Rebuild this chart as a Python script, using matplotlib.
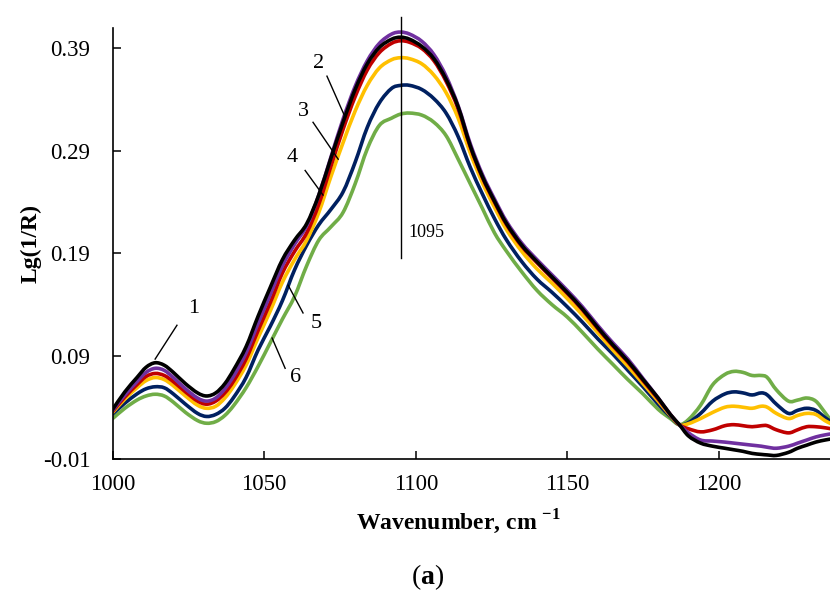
import matplotlib
matplotlib.use("Agg")
import matplotlib.pyplot as plt
from matplotlib.path import Path
from matplotlib.patches import PathPatch
import numpy as np

plt.rcParams['font.family'] = ['Liberation Serif', 'DejaVu Serif']
plt.rcParams['mathtext.fontset'] = 'custom'
plt.rcParams['mathtext.rm'] = 'Liberation Serif'
plt.rcParams['mathtext.bf'] = 'Liberation Serif:bold'

wavenumber = [1000, 1004, 1008, 1011, 1014, 1017, 1020, 1024, 1028, 1031,
              1034, 1037, 1040, 1044, 1048, 1052, 1056, 1060, 1064, 1068,
              1072, 1076, 1080, 1084, 1088, 1092, 1095, 1098, 1102, 1106,
              1110, 1114, 1118, 1122, 1126, 1130, 1135, 1140, 1145, 1150,
              1155, 1160, 1165, 1170, 1175, 1180, 1184, 1187, 1190, 1194,
              1198, 1202, 1205, 1208, 1211, 1214, 1216, 1219, 1223, 1226,
              1229, 1232, 1235, 1237]

s1_black = [0.038, 0.055, 0.069, 0.079, 0.0834, 0.081, 0.074, 0.063, 0.054, 0.051,
            0.054, 0.063, 0.077, 0.099, 0.129, 0.157, 0.184, 0.203, 0.219, 0.247,
            0.283, 0.318, 0.350, 0.375, 0.391, 0.399, 0.401, 0.399, 0.392, 0.380,
            0.360, 0.333, 0.295, 0.265, 0.241, 0.219, 0.198, 0.182, 0.167, 0.152,
            0.136, 0.118, 0.101, 0.085, 0.067, 0.049, 0.033, 0.023, 0.012, 0.005,
            0.002, 0.000, -0.0015, -0.003, -0.005, -0.006, -0.0065, -0.007, -0.004, 0.000,
            0.003, 0.006, 0.008, 0.009]

s2_purple = [0.037, 0.052, 0.065, 0.074, 0.078, 0.076, 0.069, 0.058, 0.049, 0.046,
             0.049, 0.058, 0.071, 0.093, 0.122, 0.150, 0.178, 0.199, 0.217, 0.247,
             0.284, 0.321, 0.353, 0.378, 0.395, 0.404, 0.406, 0.404, 0.397, 0.384,
             0.363, 0.334, 0.297, 0.267, 0.243, 0.221, 0.200, 0.184, 0.169, 0.154,
             0.138, 0.120, 0.103, 0.087, 0.068, 0.049, 0.033, 0.023, 0.015, 0.008,
             0.007, 0.006, 0.005, 0.004, 0.003, 0.002, 0.001, 0.000, 0.002, 0.005,
             0.008, 0.011, 0.013, 0.014]

s3_red = [0.036, 0.050, 0.062, 0.070, 0.073, 0.071, 0.065, 0.055, 0.046, 0.043,
          0.046, 0.054, 0.066, 0.087, 0.115, 0.142, 0.171, 0.192, 0.210, 0.238,
          0.275, 0.311, 0.343, 0.369, 0.386, 0.395, 0.3975, 0.396, 0.390, 0.378,
          0.358, 0.331, 0.294, 0.264, 0.240, 0.218, 0.197, 0.181, 0.166, 0.151,
          0.135, 0.117, 0.100, 0.084, 0.066, 0.048, 0.033, 0.023, 0.019, 0.016,
          0.018, 0.022, 0.023, 0.022, 0.021, 0.022, 0.022, 0.018, 0.015, 0.018,
          0.021, 0.021, 0.020, 0.019]

s4_yellow = [0.035, 0.048, 0.059, 0.066, 0.069, 0.067, 0.061, 0.051, 0.042, 0.039,
             0.041, 0.049, 0.061, 0.081, 0.108, 0.134, 0.162, 0.184, 0.203, 0.230,
             0.265, 0.298, 0.329, 0.354, 0.371, 0.379, 0.381, 0.380, 0.375, 0.364,
             0.347, 0.322, 0.288, 0.259, 0.235, 0.213, 0.192, 0.175, 0.161, 0.146,
             0.130, 0.113, 0.096, 0.080, 0.063, 0.046, 0.032, 0.023, 0.024, 0.029,
             0.035, 0.040, 0.041, 0.040, 0.039, 0.041, 0.040, 0.034, 0.029, 0.032,
             0.034, 0.033, 0.027, 0.024]

s5_navy = [0.0335, 0.044, 0.053, 0.058, 0.060, 0.059, 0.053, 0.043, 0.034, 0.031,
           0.033, 0.039, 0.050, 0.069, 0.096, 0.119, 0.144, 0.174, 0.198, 0.218,
           0.233, 0.250, 0.279, 0.313, 0.337, 0.351, 0.354, 0.354, 0.350, 0.341,
           0.327, 0.304, 0.274, 0.248, 0.224, 0.203, 0.182, 0.165, 0.152, 0.138,
           0.123, 0.107, 0.092, 0.076, 0.060, 0.043, 0.031, 0.023, 0.025, 0.034,
           0.046, 0.053, 0.055, 0.054, 0.052, 0.054, 0.052, 0.043, 0.034, 0.037,
           0.039, 0.037, 0.030, 0.026]

s6_green = [0.029, 0.039, 0.047, 0.051, 0.0527, 0.051, 0.045, 0.035, 0.027, 0.0244,
            0.026, 0.032, 0.042, 0.059, 0.080, 0.103, 0.126, 0.148, 0.178, 0.203,
            0.216, 0.230, 0.258, 0.292, 0.315, 0.322, 0.326, 0.327, 0.325, 0.318,
            0.305, 0.282, 0.258, 0.234, 0.210, 0.192, 0.172, 0.154, 0.140, 0.128,
            0.113, 0.097, 0.082, 0.067, 0.053, 0.038, 0.029, 0.023, 0.028, 0.042,
            0.062, 0.072, 0.075, 0.074, 0.071, 0.071, 0.069, 0.057, 0.046, 0.047,
            0.049, 0.046, 0.035, 0.027]

series = [s1_black, s2_purple, s3_red, s4_yellow, s5_navy, s6_green]
colors = ['#000000', '#7030A0', '#C00000', '#FFC000', '#002060', '#70AD47']

x_ticks = [1000, 1050, 1100, 1150, 1200]
y_ticks = [-0.01, 0.09, 0.19, 0.29, 0.39]
y_tick_labels = ['-0.01', '0.09', '0.19', '0.29', '0.39']

peak_position = 1095

# curve labels: (text, text_xy, line_start, line_end)
curve_labels = [
    ('1', (1026.8, 0.136), (1021.2, 0.120), (1014.0, 0.087)),
    ('2', (1067.8, 0.375), (1070.7, 0.363), (1076.7, 0.323)),
    ('3', (1063.1, 0.329), (1066.1, 0.318), (1074.4, 0.282)),
    ('4', (1059.2, 0.284), (1063.5, 0.271), (1069.4, 0.247)),
    ('5', (1067.1, 0.122), (1057.9, 0.159), (1062.8, 0.132)),
    ('6', (1060.2, 0.069), (1052.6, 0.1075), (1056.9, 0.078)),
]


def smooth_path(xs, ys):
    """Excel-like smoothed line: cubic Bezier segments through the data points."""
    p = np.column_stack([xs, ys]).astype(float)
    n = len(p)
    verts = [p[0]]
    codes = [Path.MOVETO]
    for i in range(n - 1):
        p0 = p[i - 1] if i > 0 else p[i]
        p1 = p[i]
        p2 = p[i + 1]
        p3 = p[i + 2] if i + 2 < n else p[i + 1]
        c1 = p1 + (p2 - p0) / 6.0
        c2 = p2 - (p3 - p1) / 6.0
        verts += [c1, c2, p2]
        codes += [Path.CURVE4] * 3
    return Path(verts, codes)


fig = plt.figure(figsize=(8.3, 5.93), dpi=100)
ax = fig.add_axes([0.1358, 0.2268, 0.8642, 0.726])

for ys, c in zip(series[::-1], colors[::-1]):
    patch = PathPatch(smooth_path(wavenumber, ys), facecolor='none',
                      edgecolor=c, lw=2.6, joinstyle='round', capstyle='round')
    ax.add_patch(patch)

ax.plot([peak_position, peak_position], [0.186, 0.421], color='black',
        lw=1.0, clip_on=False)
ax.text(peak_position + 2.5, 0.21, str(peak_position), fontsize=13,
        ha='left', va='center')

for txt, txy, p0, p1 in curve_labels:
    ax.plot([p0[0], p1[0]], [p0[1], p1[1]], color='black', lw=1.0)
    ax.text(txy[0], txy[1], txt, fontsize=16, ha='center', va='center')

ax.set_xlim(1000, 1236.7)
ax.set_ylim(-0.01, 0.41)
ax.set_xticks(x_ticks)
ax.set_xticklabels([str(v) for v in x_ticks])
ax.set_yticks(y_ticks)
ax.set_yticklabels(y_tick_labels)

for s in ['top', 'right']:
    ax.spines[s].set_visible(False)
for s in ['left', 'bottom']:
    ax.spines[s].set_linewidth(1.2)
    ax.spines[s].set_color('black')

ax.tick_params(axis='both', direction='in', length=6, width=1.1,
               labelsize=16.5, colors='black')
ax.tick_params(axis='x', pad=11)
ax.tick_params(axis='y', pad=16)

ax.set_ylabel('Lg(1/R)', fontsize=17, fontweight='bold', labelpad=1)
fig.text(458 / 830, 1 - 522 / 593, r'Wavenumber, cm $^{\mathbf{-1}}$',
         fontsize=17, fontweight='bold', ha='center', va='center')
fig.text(428 / 830, 1 - 577 / 593, r'($\mathbf{a}$)', fontsize=20,
         ha='center', va='center')

fig.savefig('out.png', dpi=100)
